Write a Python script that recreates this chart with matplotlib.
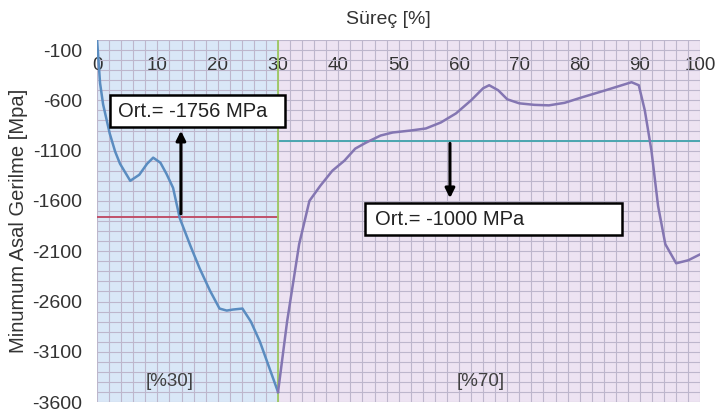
import numpy as np
import matplotlib
matplotlib.use('Agg')
import matplotlib.pyplot as plt
from matplotlib.ticker import MultipleLocator
from matplotlib.patches import Rectangle

plt.rcParams['font.family'] = ['Liberation Sans', 'DejaVu Sans']
plt.rcParams['axes.unicode_minus'] = False

# sureç [%] ve minimum asal gerilme [MPa] - ilk bolum (%30)
x1 = [0, 0.5, 1, 2.1, 3, 3.8, 5.5, 7, 8.3, 9.3, 10.5, 11.5, 12.6, 13.7, 15.5, 17, 18.7, 20.3, 21.5, 22.5, 24.1, 25.5, 27, 28.5, 30]
y1 = [0, -430, -640, -930, -1110, -1230, -1400, -1340, -1230, -1170, -1220, -1330, -1470, -1770, -2050, -2270, -2490, -2670, -2690, -2680, -2670, -2800, -3000, -3250, -3500]

# ikinci bolum (%70)
x2 = [30, 31.5, 33.5, 35.2, 37, 39, 41, 42.8, 44.6, 47, 49, 52, 54.5, 57, 59.5, 62, 64, 65, 66.5, 68, 70, 72.5, 74.9, 77.5, 80.4, 84.3, 88.6, 89.8, 90.8, 91.9, 93, 94.2, 96, 98, 100]
y2 = [-3500, -2800, -2030, -1600, -1450, -1300, -1200, -1080, -1020, -950, -920, -900, -880, -820, -730, -600, -480, -450, -500, -590, -630, -645, -650, -625, -570, -500, -420, -450, -700, -1100, -1650, -2030, -2220, -2190, -2130]

ort1 = -1756
ort2 = -1000
xticks = np.arange(0, 101, 10)
yticks = np.arange(-3600, 0, 500)

fig = plt.figure(figsize=(7.19, 4.12), dpi=100)
ax = fig.add_axes([0.135, 0.024, 0.839, 0.879])
ax.set_xlim(0, 100)
ax.set_ylim(-3600, 0)

# arka plan bolgeleri
ax.axvspan(0, 30, color='#d9e7f7', zorder=0)
ax.axvspan(30, 100, color='#ede3f2', zorder=0)

ax.xaxis.set_minor_locator(MultipleLocator(2))
ax.yaxis.set_minor_locator(MultipleLocator(100))
ax.set_xticks(xticks)
ax.set_yticks(yticks)
ax.grid(which='both', color='#bdb6cc', linewidth=0.8, zorder=1)
ax.set_axisbelow(True)

ax.plot(x1, y1, color='#5a8cc0', linewidth=1.8, zorder=3)
ax.plot(x2, y2, color='#8476b2', linewidth=1.8, zorder=3)
ax.plot([0, 30], [ort1, ort1], color='#c0506a', linewidth=1.4, zorder=2)
ax.plot([30, 100], [ort2, ort2], color='#4aa6b0', linewidth=1.4, zorder=2)
ax.axvline(30, color='#9cc860', linewidth=1.3, zorder=2)

# ortalama kutulari
ax.add_patch(Rectangle((2.1, -870), 29.1, 320, fc='white', ec='black', lw=1.8, zorder=5))
ax.add_patch(Rectangle((44.4, -1940), 42.7, 320, fc='white', ec='black', lw=1.8, zorder=5))
ax.text(3.5, -715, 'Ort.= -1756 MPa', fontsize=14.5, color='#222222', va='center', ha='left', zorder=6)
ax.text(46.1, -1785, 'Ort.= -1000 MPa', fontsize=14.5, color='#222222', va='center', ha='left', zorder=6)
ax.annotate('', xy=(13.9, -875), xytext=(13.9, ort1),
            arrowprops=dict(arrowstyle='-|>', color='black', lw=2.2, mutation_scale=14), zorder=4)
ax.annotate('', xy=(58.5, -1600), xytext=(58.5, ort2),
            arrowprops=dict(arrowstyle='-|>', color='black', lw=2.2, mutation_scale=14), zorder=4)

ax.text(12, -3400, '[%30]', fontsize=13.5, color='#404040', ha='center', va='center')
ax.text(63.6, -3400, '[%70]', fontsize=13.5, color='#404040', ha='center', va='center')

# eksenler
ax.spines['bottom'].set_position(('data', -100))
for s in ['top', 'right', 'left', 'bottom']:
    ax.spines[s].set_visible(False)
ax.tick_params(axis='x', which='both', length=0, pad=5, labelsize=13.5, labelcolor='#333333')
ax.tick_params(axis='y', which='both', length=0, pad=11, labelsize=14, labelcolor='#333333')
ax.set_ylabel('Minumum Asal Gerilme [Mpa]', fontsize=14.5, color='#333333', labelpad=3)
fig.text(388 / 719, 1 - 19 / 412, 'Süreç [%]', fontsize=14, color='#333333', ha='center', va='center')

fig.savefig('out.png', dpi=100)
